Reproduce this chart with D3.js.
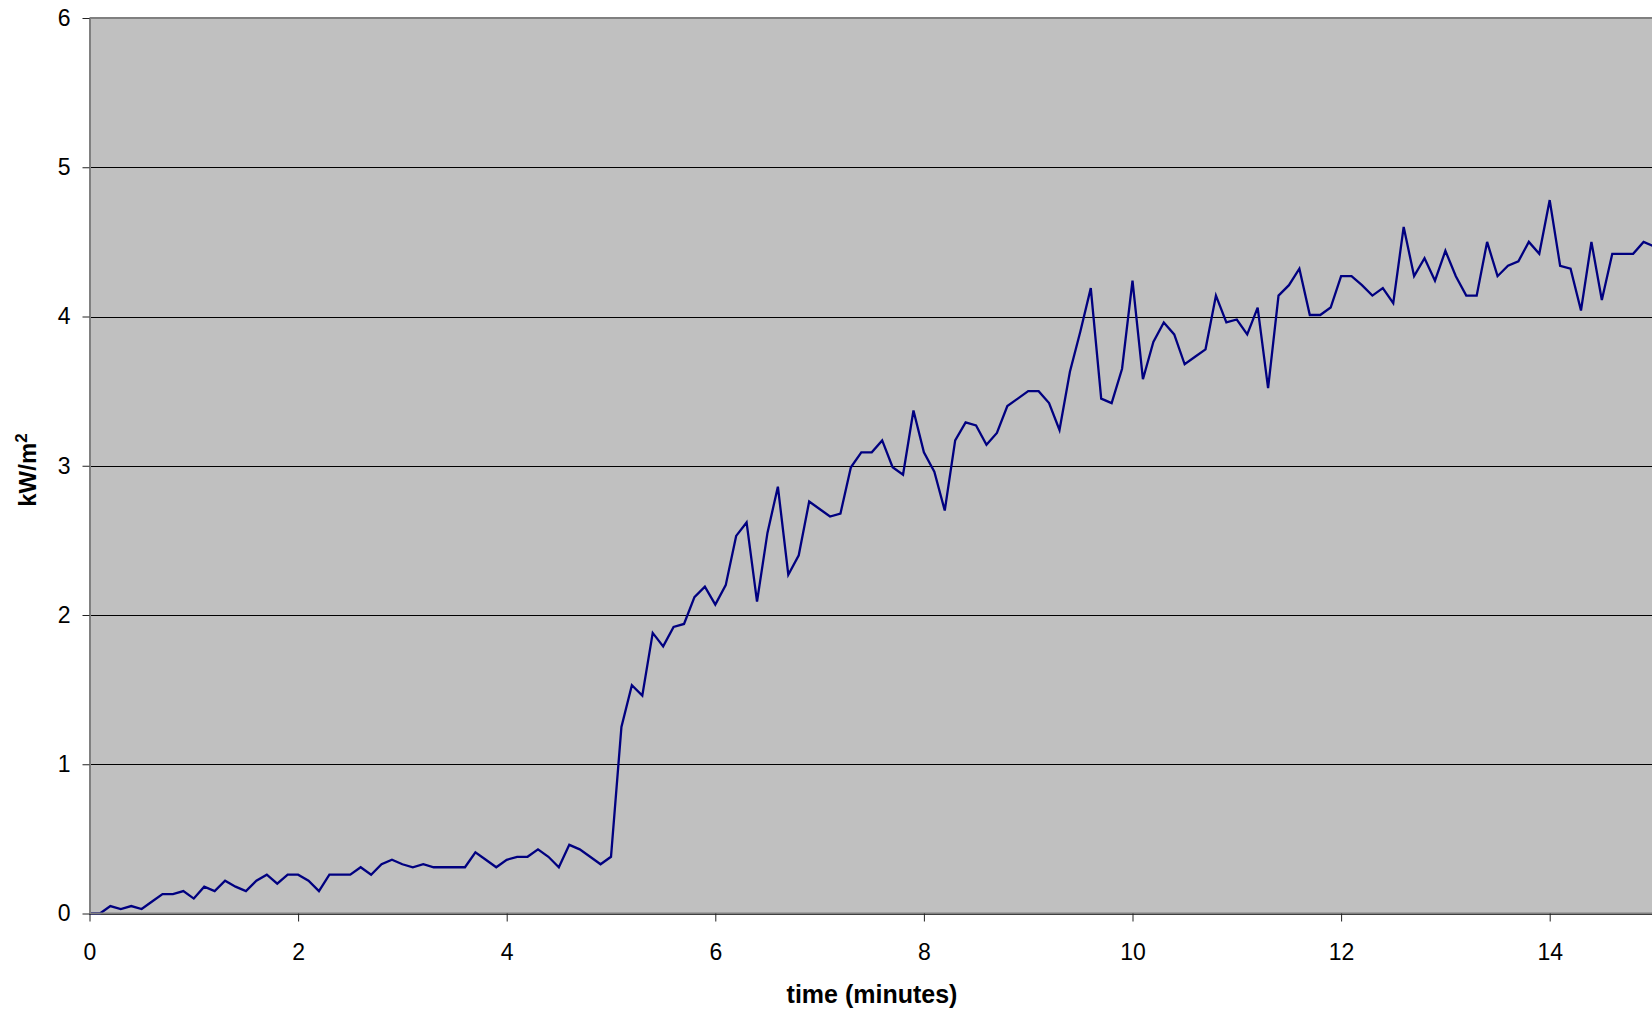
<!DOCTYPE html>
<html>
<head>
<meta charset="utf-8">
<script src="https://cdn.jsdelivr.net/npm/d3@7/dist/d3.min.js"></script>
<style>
  html, body { margin: 0; padding: 0; background: #fff; }
  svg { display: block; font-family: Arial, "Liberation Sans", sans-serif; }
</style>
</head>
<body>
<svg id="chart" width="1652" height="1011"></svg>
<script>
// time in minutes, sampled every 6 s
var times = [
  0, 0.1, 0.2, 0.3, 0.4, 0.5, 0.6, 0.7, 0.8, 0.9,
  1, 1.1, 1.2, 1.3, 1.4, 1.5, 1.6, 1.7, 1.8, 1.9,
  2, 2.1, 2.2, 2.3, 2.4, 2.5, 2.6, 2.7, 2.8, 2.9,
  3, 3.1, 3.2, 3.3, 3.4, 3.5, 3.6, 3.7, 3.8, 3.9,
  4, 4.1, 4.2, 4.3, 4.4, 4.5, 4.6, 4.7, 4.8, 4.9,
  5, 5.1, 5.2, 5.3, 5.4, 5.5, 5.6, 5.7, 5.8, 5.9,
  6, 6.1, 6.2, 6.3, 6.4, 6.5, 6.6, 6.7, 6.8, 6.9,
  7, 7.1, 7.2, 7.3, 7.4, 7.5, 7.6, 7.7, 7.8, 7.9,
  8, 8.1, 8.2, 8.3, 8.4, 8.5, 8.6, 8.7, 8.8, 8.9,
  9, 9.1, 9.2, 9.3, 9.4, 9.5, 9.6, 9.7, 9.8, 9.9,
  10, 10.1, 10.2, 10.3, 10.4, 10.5, 10.6, 10.7, 10.8, 10.9,
  11, 11.1, 11.2, 11.3, 11.4, 11.5, 11.6, 11.7, 11.8, 11.9,
  12, 12.1, 12.2, 12.3, 12.4, 12.5, 12.6, 12.7, 12.8, 12.9,
  13, 13.1, 13.2, 13.3, 13.4, 13.5, 13.6, 13.7, 13.8, 13.9,
  14, 14.1, 14.2, 14.3, 14.4, 14.5, 14.6, 14.7, 14.8, 14.9,
  15
];

// heat flux, kW/m2
var flux = [
  0, 0, 0.05, 0.03, 0.05, 0.03, 0.08, 0.13, 0.13, 0.15,
  0.1, 0.18, 0.15, 0.22, 0.18, 0.15, 0.22, 0.26, 0.2, 0.26,
  0.26, 0.22, 0.15, 0.26, 0.26, 0.26, 0.31, 0.26, 0.33, 0.36,
  0.33, 0.31, 0.33, 0.31, 0.31, 0.31, 0.31, 0.41, 0.36, 0.31,
  0.36, 0.38, 0.38, 0.43, 0.38, 0.31, 0.46, 0.43, 0.38, 0.33,
  0.38, 1.25, 1.53, 1.46, 1.88, 1.79, 1.92, 1.94, 2.12, 2.19,
  2.07, 2.2, 2.53, 2.62, 2.09, 2.55, 2.86, 2.27, 2.4, 2.76,
  2.71, 2.66, 2.68, 2.99, 3.09, 3.09, 3.17, 2.99, 2.94, 3.37,
  3.09, 2.96, 2.7, 3.17, 3.29, 3.27, 3.14, 3.22, 3.4, 3.45,
  3.5, 3.5, 3.42, 3.24, 3.63, 3.9, 4.19, 3.45, 3.42, 3.65,
  4.24, 3.58, 3.83, 3.96, 3.88, 3.68, 3.73, 3.78, 4.14, 3.96,
  3.98, 3.88, 4.06, 3.52, 4.14, 4.21, 4.32, 4.01, 4.01, 4.06,
  4.27, 4.27, 4.21, 4.14, 4.19, 4.09, 4.6, 4.27, 4.39, 4.24,
  4.44, 4.27, 4.14, 4.14, 4.5, 4.27, 4.34, 4.37, 4.5, 4.42,
  4.78, 4.34, 4.32, 4.04, 4.5, 4.11, 4.42, 4.42, 4.42, 4.5,
  4.47
];

var xTicks = [0, 2, 4, 6, 8, 10, 12, 14];
var yTicks = [0, 1, 2, 3, 4, 5, 6];

(function() {
var svg = d3.select("#chart"),
    W = +svg.attr("width"),
    H = +svg.attr("height");

var plotLeft = 89.5, plotTop = 18, plotBottom = 913.5;

var x = d3.scaleLinear().domain([0, 15]).range([plotLeft, plotLeft + 15 * 104.3]);
var y = d3.scaleLinear().domain([0, 6]).range([plotBottom, plotTop]);

// plot background
svg.append("rect")
    .attr("x", plotLeft).attr("y", plotTop)
    .attr("width", W - plotLeft).attr("height", plotBottom - plotTop)
    .attr("fill", "#c0c0c0");

// gridlines
svg.append("g")
    .selectAll("line")
    .data(yTicks)
  .enter().append("line")
    .attr("x1", plotLeft).attr("x2", W)
    .attr("y1", function(d) { return Math.round(y(d)) + 0.5; })
    .attr("y2", function(d) { return Math.round(y(d)) + 0.5; })
    .attr("stroke", "#000")
    .attr("stroke-width", 1);

// top border of plot area
svg.append("line")
    .attr("x1", plotLeft).attr("x2", W)
    .attr("y1", plotTop).attr("y2", plotTop)
    .attr("stroke", "#808080").attr("stroke-width", 2);

var line = d3.line()
    .x(function(d, i) { return x(times[i]); })
    .y(function(d) { return y(d); });

svg.append("path")
    .datum(flux)
    .attr("fill", "none")
    .attr("stroke", "#000080")
    .attr("stroke-width", 2.3)
    .attr("stroke-linejoin", "miter")
    .attr("d", line);

// axes
var gx = svg.append("g")
    .attr("transform", "translate(0," + plotBottom + ")")
    .call(d3.axisBottom(x).tickValues(xTicks).tickSize(8).tickSizeOuter(0).tickPadding(22).tickFormat(d3.format("d")));

var gy = svg.append("g")
    .attr("transform", "translate(" + plotLeft + ",0)")
    .call(d3.axisLeft(y).tickValues(yTicks).tickSize(7).tickSizeOuter(0).tickPadding(12).tickFormat(d3.format("d")));

[gx, gy].forEach(function(g) {
  g.select(".domain").attr("stroke", "#808080").attr("stroke-width", 2);
  g.selectAll(".tick line").attr("stroke", "#222");
  g.selectAll(".tick text")
      .attr("fill", "#000")
      .style("font-size", "23px")
      .style("font-family", "Arial, 'Liberation Sans', sans-serif");
});
gx.select(".domain").attr("d", "M" + plotLeft + ",0H" + W);

// axis titles
svg.append("text")
    .attr("x", 872).attr("y", 1003)
    .attr("text-anchor", "middle")
    .style("font-size", "25px")
    .style("font-weight", "bold")
    .text("time (minutes)");

var yt = svg.append("text")
    .attr("transform", "translate(36,470) rotate(-90)")
    .attr("text-anchor", "middle")
    .style("font-size", "24px")
    .style("font-weight", "bold");
yt.append("tspan").text("kW/m");
yt.append("tspan")
    .attr("dy", "-9")
    .style("font-size", "17px")
    .text("2");
})();
</script>
</body>
</html>
